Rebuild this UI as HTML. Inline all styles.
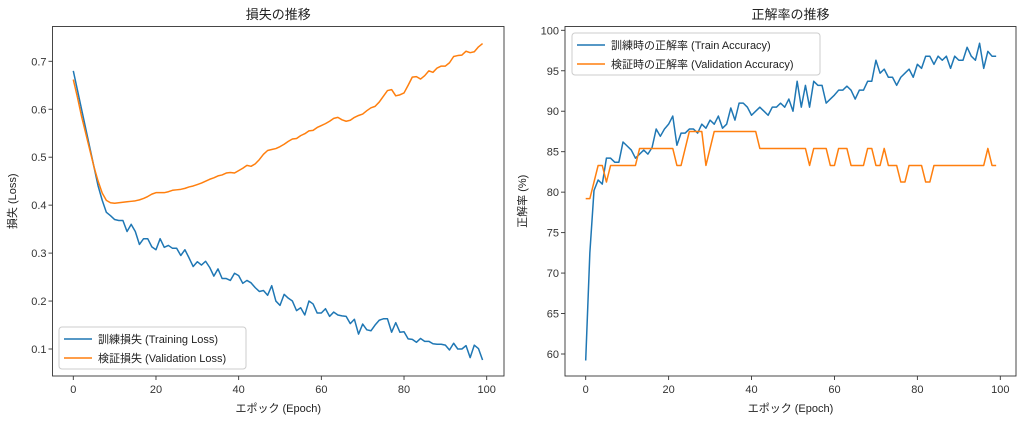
<!DOCTYPE html>
<html><head><meta charset="utf-8">
<style>
html,body{margin:0;padding:0;background:#fff;}
svg{display:block;font-family:"Liberation Sans","Noto Sans CJK JP",sans-serif;}
</style></head>
<body>
<svg id="fig" width="1024" height="422" viewBox="0 0 1024 422" xmlns="http://www.w3.org/2000/svg"></svg>
<script>
const epochs = Array.from({length:100},(_,i)=>i);
const trainLoss = [.68,.64,.60,.56,.52,.48,.44,.41,.385,.378,.37,.368,.368,.345,.36,.345,.318,.33,.33,.313,.307,.33,.312,.316,.31,.31,.295,.307,.29,.272,.282,.275,.283,.27,.252,.267,.247,.247,.243,.258,.253,.237,.243,.238,.228,.22,.222,.212,.232,.2,.191,.214,.206,.2,.18,.186,.171,.2,.194,.175,.175,.184,.168,.177,.171,.169,.168,.153,.162,.131,.152,.14,.138,.15,.16,.163,.163,.135,.155,.135,.136,.121,.12,.114,.122,.116,.116,.111,.11,.11,.108,.098,.112,.1,.1,.107,.082,.108,.101,.077];
const valLoss = [.662,.625,.585,.55,.515,.48,.45,.425,.41,.405,.404,.405,.406,.407,.408,.409,.411,.414,.418,.423,.426,.426,.426,.428,.431,.432,.433,.435,.438,.44,.443,.446,.45,.454,.457,.461,.463,.467,.468,.467,.472,.477,.483,.481,.486,.495,.506,.514,.516,.518,.522,.527,.533,.538,.539,.545,.549,.555,.556,.562,.566,.57,.575,.581,.583,.578,.575,.577,.583,.587,.59,.597,.603,.606,.615,.627,.639,.641,.628,.63,.634,.65,.667,.668,.663,.67,.68,.677,.686,.69,.69,.697,.71,.712,.713,.721,.718,.72,.73,.737];
const trainAcc = [59.2,72.5,80.2,81.5,81,84.2,84.2,83.7,83.7,86.2,85.7,85.2,84.2,84.7,85.2,84.7,85.5,87.8,86.9,87.8,88.4,89.4,85.8,87.3,87.3,87.8,87.8,87.3,88.4,87.9,88.9,88.4,89.4,87.9,88.4,90.4,88.9,91,91,90.5,89.5,90,90.5,90,89.5,90.5,90.5,91,90.5,91.5,90,93.7,90.5,93.2,90.5,93.7,93.2,93.2,91,91.5,92,92.6,92.6,93.1,92.6,91.5,92.6,92.6,93.7,93.7,96.3,94.7,95.2,94.2,94.2,93.2,94.2,94.7,95.2,94.2,95.8,95.3,96.8,96.8,95.8,96.8,96.3,96.8,95.3,96.8,96.3,96.3,97.9,96.8,96.3,98.4,95.3,97.4,96.8,96.8];
const valAcc = [79.2,79.2,81.25,83.3,83.3,81.25,83.3,83.3,83.3,83.3,83.3,83.3,83.3,85.4,85.4,85.4,85.4,85.4,85.4,85.4,85.4,85.4,83.3,83.3,85.4,87.5,87.5,87.5,87.5,83.3,85.4,87.5,87.5,87.5,87.5,87.5,87.5,87.5,87.5,87.5,87.5,87.5,85.4,85.4,85.4,85.4,85.4,85.4,85.4,85.4,85.4,85.4,85.4,85.4,83.3,85.4,85.4,85.4,85.4,83.3,83.3,85.4,85.4,85.4,83.3,83.3,83.3,83.3,85.4,85.4,83.3,83.3,85.4,83.3,83.3,83.3,81.25,81.25,83.3,83.3,83.3,83.3,81.25,81.25,83.3,83.3,83.3,83.3,83.3,83.3,83.3,83.3,83.3,83.3,83.3,83.3,83.3,85.4,83.3,83.3];
const xTicks = [0,20,40,60,80,100];
const lossTicks = [0.1,0.2,0.3,0.4,0.5,0.6,0.7];
const accTicks = [60,65,70,75,80,85,90,95,100];

const NS="http://www.w3.org/2000/svg";
const svg=document.getElementById('fig');
function mk(tag,attrs,parent,text){const e=document.createElementNS(NS,tag);for(const k in attrs)e.setAttribute(k,attrs[k]);if(text!==undefined)e.textContent=text;(parent||svg).appendChild(e);return e;}

function panel(cfg){
  const g=mk('g',{});
  
  
  const sx=v=>cfg.x0+(v-0)*(cfg.x100-cfg.x0)/100;
  const sy=v=>cfg.ya+(v-cfg.va)*(cfg.yb-cfg.ya)/(cfg.vb-cfg.va);
  // series
  cfg.series.forEach(s=>{
    const p=mk('polyline',{points:s.data.map((v,i)=>sx(epochs[i]).toFixed(2)+','+sy(v).toFixed(2)).join(' '),fill:'none',stroke:s.color,'stroke-width':1.5,'stroke-linejoin':'round'},g);
    
    
  });
  const frame=mk('rect',{x:cfg.L,y:cfg.T,width:cfg.R-cfg.L,height:cfg.B-cfg.T,fill:'none',stroke:'#333','stroke-width':0.9},g);
  
  
  xTicks.forEach(t=>{
    mk('line',{x1:sx(t),x2:sx(t),y1:cfg.B,y2:cfg.B+4,stroke:'#333','stroke-width':0.9},g);
    const tl=mk('text',{x:sx(t),y:cfg.B+17,'font-size':11,fill:'#333','text-anchor':'middle'},g,String(t));
    
    
  });
  cfg.yTicks.forEach(t=>{
    mk('line',{x1:cfg.L-4,x2:cfg.L,y1:sy(t),y2:sy(t),stroke:'#333','stroke-width':0.9},g);
    const tl=mk('text',{x:cfg.L-6,y:sy(t)+4,'font-size':11,fill:'#333','text-anchor':'end'},g,cfg.fmt(t));
    
    
  });
  const title=mk('text',{x:(cfg.L+cfg.R)/2,y:19,'font-size':13,fill:'#222','text-anchor':'middle'},g,cfg.title);
  
  
  const xl=mk('text',{x:(cfg.L+cfg.R)/2,y:412,'font-size':11,fill:'#222','text-anchor':'middle'},g,'エポック (Epoch)');
  
  
  const yl=mk('text',{x:0,y:0,'font-size':11,fill:'#222','text-anchor':'middle',transform:`translate(${cfg.ylx},${(cfg.T+cfg.B)/2}) rotate(-90)`},g,cfg.ylabel);
  
  
  // legend
  const lg=mk('g',{},g);
  
  
  mk('rect',{x:cfg.lx,y:cfg.ly,width:cfg.lw,height:42,rx:3,fill:'#fff','fill-opacity':0.85,stroke:'#ccc','stroke-width':1},lg);
  cfg.series.forEach((s,i)=>{
    const yy=cfg.ly+12+i*19;
    mk('line',{x1:cfg.lx+5,x2:cfg.lx+33,y1:yy,y2:yy,stroke:s.color,'stroke-width':1.5},lg);
    const t=mk('text',{x:cfg.lx+39,y:yy+4,'font-size':11,fill:'#222'},lg,s.label);
    
    
  });
}

panel({name:'loss-chart',L:52.5,R:504,T:26.5,B:376,x0:73.3,x100:486.7,ya:61.3,va:0.7,yb:349,vb:0.1,
  yTicks:lossTicks,fmt:t=>t.toFixed(1),title:'損失の推移',ylabel:'損失 (Loss)',ylx:16,
  lx:59,ly:327,lw:187,
  series:[{id:'training-loss-line',data:trainLoss,color:'#1f77b4',label:'訓練損失 (Training Loss)'},
          {id:'validation-loss-line',data:valLoss,color:'#ff7f0e',label:'検証損失 (Validation Loss)'}]});
panel({name:'accuracy-chart',L:565,R:1016,T:26.5,B:376,x0:585.7,x100:1000.3,ya:30.3,va:100,yb:354,vb:60,
  yTicks:accTicks,fmt:t=>String(t),title:'正解率の推移',ylabel:'正解率 (%)',ylx:526,
  lx:572,ly:33,lw:248,
  series:[{id:'train-accuracy-line',data:trainAcc,color:'#1f77b4',label:'訓練時の正解率 (Train Accuracy)'},
          {id:'validation-accuracy-line',data:valAcc,color:'#ff7f0e',label:'検証時の正解率 (Validation Accuracy)'}]});
</script>
</body></html>
